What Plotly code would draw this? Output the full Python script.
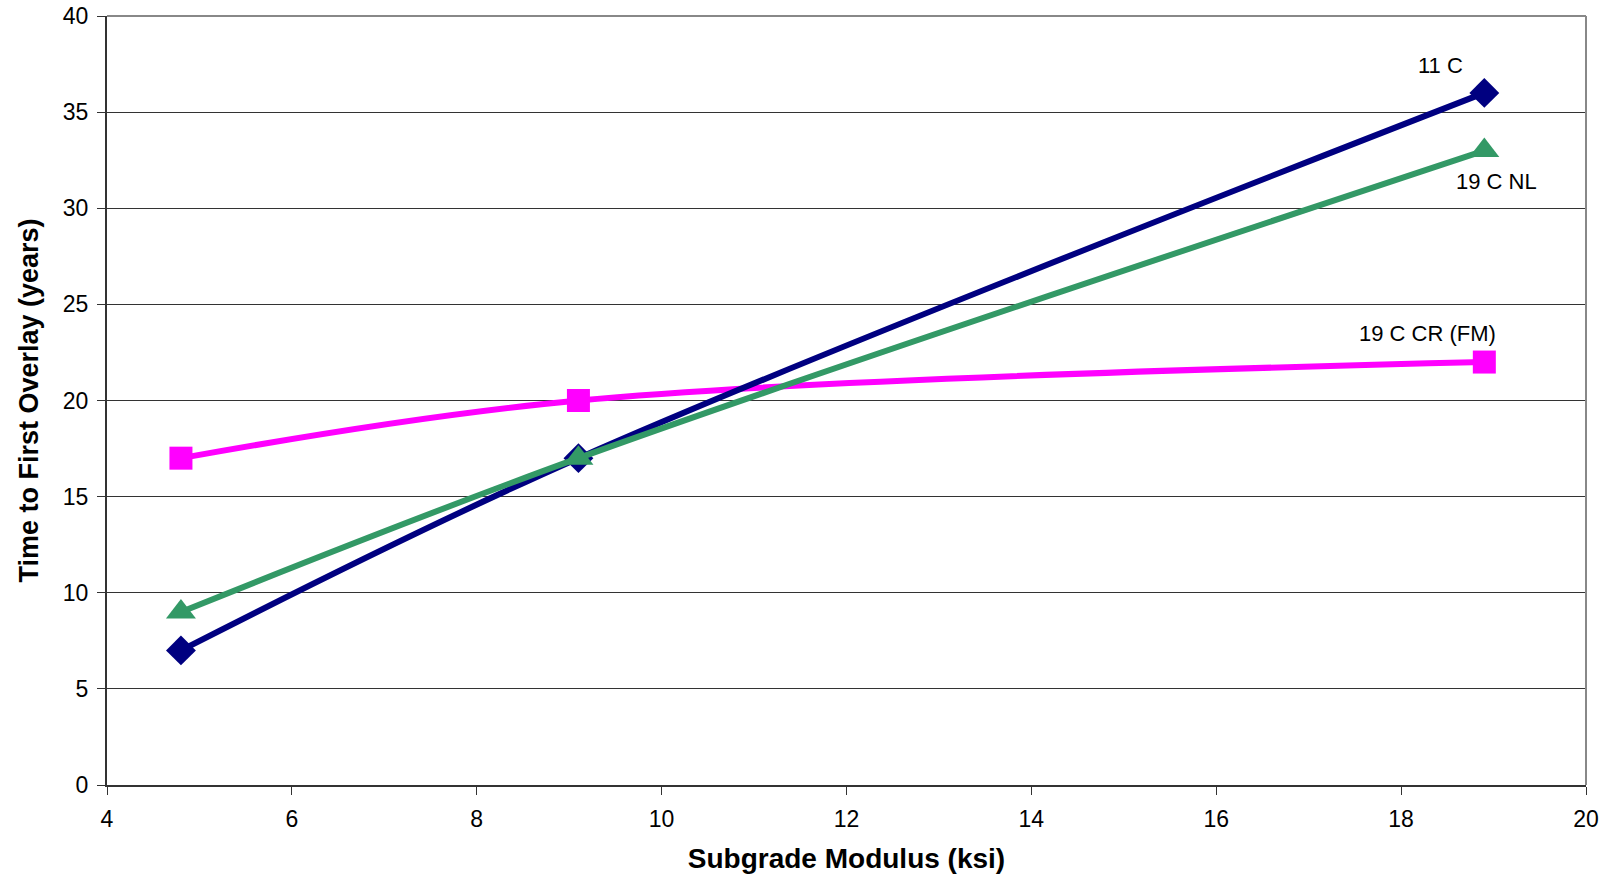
import plotly.graph_objects as go

x_vals = [4.8, 9.1, 18.9]
y_11c = [7, 17, 36]
y_19c_nl = [9, 17, 33]
y_19c_cr = [17, 20, 22]

series_names = ["11 C", "19 C NL", "19 C CR (FM)"]
label_x = [18.43, 19.03, 18.29]
label_y = [37.45, 31.37, 23.46]

FONT = "Liberation Sans, Arial"

fig = go.Figure()
fig.add_trace(go.Scatter(x=x_vals, y=y_19c_cr, mode="lines+markers", name=series_names[2],
                         line=dict(color="#FF00FF", width=6, shape="spline", smoothing=1.0),
                         marker=dict(symbol="square", size=23, color="#FF00FF")))
fig.add_trace(go.Scatter(x=x_vals, y=y_11c, mode="lines+markers", name=series_names[0],
                         line=dict(color="#000080", width=6, shape="spline", smoothing=1.0),
                         marker=dict(symbol="diamond", size=23, color="#000080")))
fig.add_trace(go.Scatter(x=x_vals, y=y_19c_nl, mode="lines+markers", name=series_names[1],
                         line=dict(color="#339966", width=6, shape="spline", smoothing=1.0),
                         marker=dict(symbol="triangle-up", size=26, color="#339966")))

for name, lx, ly in zip(series_names, label_x, label_y):
    fig.add_annotation(x=lx, y=ly, text=name, showarrow=False,
                       font=dict(family=FONT, size=22, color="black"))

fig.update_layout(
    width=1611, height=877,
    margin=dict(l=107, r=25, t=16, b=92),
    plot_bgcolor="white", paper_bgcolor="white",
    showlegend=False,
    font=dict(family=FONT, size=23, color="black"),
)
fig.update_xaxes(range=[4, 20], dtick=2, tick0=4, showgrid=False, zeroline=False,
                 showline=True, linecolor="#333", linewidth=2,
                 ticks="outside", ticklen=8, tickcolor="#333", ticklabelstandoff=4,
                 ticklabeloverflow="allow", automargin=False,
                 title=dict(text="<b>Subgrade Modulus (ksi)</b>", font=dict(size=28), standoff=18))
fig.update_yaxes(range=[0, 40], dtick=5, showgrid=True, gridcolor="#333", gridwidth=1,
                 zeroline=False, showline=True, linecolor="#333", linewidth=2,
                 ticks="outside", ticklen=8, tickcolor="#333", ticklabelstandoff=4,
                 ticklabeloverflow="allow", automargin=False,
                 title=dict(text="<b>Time to First Overlay (years)</b>", font=dict(size=27), standoff=16))
# top gridline and right border
fig.add_shape(type="line", xref="paper", yref="paper", x0=0, x1=1, y0=1, y1=1,
              line=dict(color="#888", width=2), layer="below")
fig.add_shape(type="line", xref="paper", yref="paper", x0=1, x1=1, y0=0, y1=1,
              line=dict(color="#888", width=2))

fig.write_html("out.html", config={"displayModeBar": False},
               post_script="document.body.style.margin='0';document.body.style.overflow='hidden';")
